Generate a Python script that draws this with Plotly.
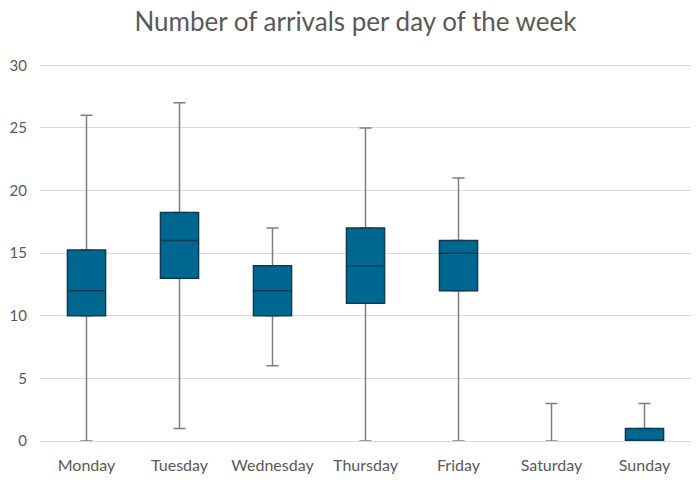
import plotly.graph_objects as go

days = ["Monday", "Tuesday", "Wednesday", "Thursday", "Friday", "Saturday", "Sunday"]
mins = [0, 1, 6, 0, 0, 0, 0]
q1s = [10, 13, 10, 11, 12, 0, 0]
medians = [12, 16, 12, 14, 15, 0, 0]
q3s = [15.25, 18.25, 14, 17, 16, 0, 1]
maxs = [26, 27, 17, 25, 21, 3, 3]

BOX_W = 0.41
CAP_W = 0.13

fig = go.Figure()

# whiskers (gray); narrow box so only whisker/caps show
fig.add_trace(go.Box(
    x=days, q1=q1s, median=medians, q3=q3s,
    lowerfence=mins, upperfence=maxs,
    line=dict(color="#7f7f7f", width=1.5),
    fillcolor="rgba(0,0,0,0)",
    whiskerwidth=1, width=CAP_W,
    boxpoints=False, hoverinfo="skip", showlegend=False,
))

# boxes (blue) only where the box has height
idx = [i for i in range(len(days)) if q3s[i] > q1s[i]]
fig.add_trace(go.Box(
    x=[days[i] for i in idx],
    q1=[q1s[i] for i in idx],
    median=[medians[i] for i in idx],
    q3=[q3s[i] for i in idx],
    lowerfence=[q1s[i] for i in idx],
    upperfence=[q3s[i] for i in idx],
    line=dict(color="#0d3b52", width=1.5),
    fillcolor="#006791",
    whiskerwidth=0, width=BOX_W,
    boxpoints=False, showlegend=False,
))

fig.update_layout(
    width=697, height=480,
    margin=dict(l=40, r=6, t=64, b=39),
    paper_bgcolor="white", plot_bgcolor="white",
    boxmode="overlay",
    font=dict(family="Lato, Open Sans, sans-serif", size=16, color="#595959"),
    title=dict(text="Number of arrivals per day of the week", x=0.51, xanchor="center",
               y=0.955, yanchor="middle",
               font=dict(size=26, color="#595959")),
    yaxis=dict(range=[0, 30.1], tickvals=[0, 5, 10, 15, 20, 25, 30],
               showgrid=True, gridcolor="#d9d9d9", gridwidth=1,
               zeroline=True, zerolinecolor="#d9d9d9", zerolinewidth=1,
               showline=False, ticks="", ticklabelstandoff=12, automargin=False,
               tickfont=dict(size=15, color="#595959")),
    xaxis=dict(type="category", categoryorder="array", categoryarray=days,
               range=[-0.5, 6.5],
               showgrid=False, showline=False, ticks="", ticklabelstandoff=13,
               automargin=False,
               tickfont=dict(size=16, color="#595959")),
)

fig.write_html("out.html")
